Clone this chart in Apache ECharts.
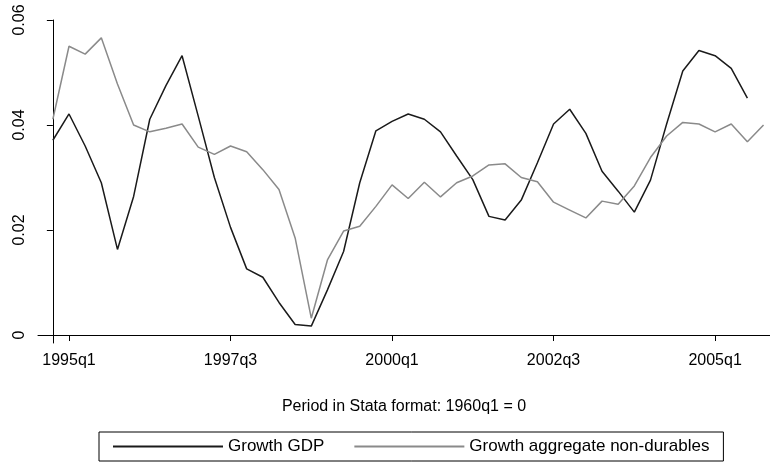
<!DOCTYPE html>
<html>
<head>
<meta charset="utf-8">
<script src="https://cdn.jsdelivr.net/npm/echarts@6/dist/echarts.min.js"></script>
<style>
  html, body { margin: 0; padding: 0; background: #fff; }
  #chart { width: 770px; height: 464px; }
</style>
</head>
<body>
<div id="chart"></div>
<script>
// quarter index 0 = 1994q4
const tickIndex = [1, 11, 21, 31, 41]
const tickLabels = ['1995q1', '1997q3', '2000q1', '2002q3', '2005q1']
const yTicks = [0, 0.02, 0.04, 0.06]

const growthGDP = [
  0.0371, 0.0421, 0.0360, 0.0290, 0.0163, 0.0264, 0.0411, 0.0475, 0.0532, 0.0417,
  0.0300, 0.0205, 0.0126, 0.0110, 0.0062, 0.0020, 0.0017, 0.0086, 0.0159, 0.0290,
  0.0389, 0.0407, 0.0421, 0.0411, 0.0387, 0.0341, 0.0296, 0.0226, 0.0219, 0.0257,
  0.0328, 0.0402, 0.0430, 0.0384, 0.0312, 0.0274, 0.0234, 0.0295, 0.0402, 0.0503,
  0.0542, 0.0532, 0.0508, 0.0451
]
const growthNonDurables = [
  0.0411, 0.0550, 0.0535, 0.0566, 0.0478, 0.0400, 0.0387, 0.0394, 0.0402, 0.0358,
  0.0344, 0.0360, 0.0349, 0.0315, 0.0277, 0.0185, 0.0032, 0.0143, 0.0198, 0.0207,
  0.0245, 0.0286, 0.0260, 0.0291, 0.0263, 0.0290, 0.0303, 0.0324, 0.0326, 0.0300,
  0.0292, 0.0253, 0.0238, 0.0223, 0.0255, 0.0249, 0.0284, 0.0338, 0.0379, 0.0405,
  0.0402, 0.0387, 0.0402, 0.0368, 0.0400
]

const font = 'Liberation Sans, Arial, sans-serif'
const toPairs = arr => arr.map((v, i) => [i, v])

const chart = echarts.init(document.getElementById('chart'))
chart.setOption({
  animation: false,
  textStyle: { fontFamily: font },
  grid: { left: 38, right: 0, top: 20, bottom: 121 },
  legend: {
    bottom: 3,
    left: 99,
    itemWidth: 110,
    itemHeight: 2,
    itemGap: 30,
    icon: 'rect',
    borderColor: '#000',
    borderWidth: 1,
    borderRadius: 0,
    padding: [6, 14, 6, 14],
    textStyle: { fontSize: 17, color: '#000', fontFamily: font }
  },
  xAxis: {
    type: 'value',
    min: -0.92,
    max: 44.4,
    name: 'Period in Stata format: 1960q1 = 0',
    nameLocation: 'middle',
    nameGap: 56,
    nameTextStyle: { fontSize: 16, color: '#000' },
    axisLine: { show: true, lineStyle: { color: '#000', width: 1 } },
    axisTick: { show: true, length: 6, customValues: tickIndex, lineStyle: { color: '#000' } },
    axisLabel: {
      customValues: tickIndex,
      fontSize: 16, color: '#000', margin: 10,
      formatter: v => tickLabels[tickIndex.indexOf(Math.round(v))] || ''
    },
    splitLine: { show: false }
  },
  yAxis: {
    type: 'value',
    min: -0.00152,
    max: 0.06,
    axisLine: { show: true, lineStyle: { color: '#000', width: 1 } },
    axisTick: { show: true, length: 6, customValues: yTicks, lineStyle: { color: '#000' } },
    axisLabel: {
      customValues: yTicks,
      rotate: 90, fontSize: 16, color: '#000', margin: 10,
      formatter: v => (v === 0 ? '0' : v.toFixed(2))
    },
    splitLine: { show: false }
  },
  series: [
    {
      name: 'Growth GDP',
      type: 'line',
      data: toPairs(growthGDP),
      showSymbol: false,
      lineStyle: { color: '#1a1a1a', width: 1.5 },
      itemStyle: { color: '#1a1a1a' }
    },
    {
      name: 'Growth aggregate non-durables',
      type: 'line',
      data: toPairs(growthNonDurables),
      showSymbol: false,
      lineStyle: { color: '#8a8a8a', width: 1.5 },
      itemStyle: { color: '#8a8a8a' }
    }
  ]
})
</script>
</body>
</html>
